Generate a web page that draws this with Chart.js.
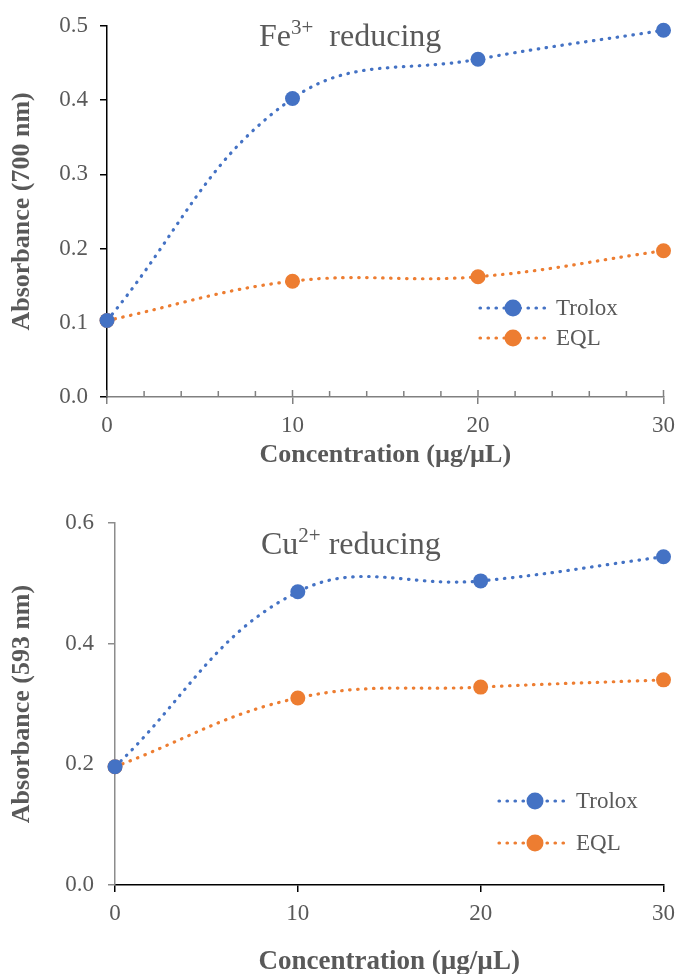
<!DOCTYPE html>
<html>
<head>
<meta charset="utf-8">
<script src="https://cdn.jsdelivr.net/npm/chart.js@4.4.1/dist/chart.umd.min.js"></script>
<style>
  html, body { margin: 0; padding: 0; background: #fff; }
  #wrap { position: relative; width: 683px; height: 974px; }
  .box { position: absolute; left: 0; width: 683px; height: 487px; }
  #box1 { top: 0; }
  #box2 { top: 487px; }
</style>
</head>
<body>
<div id="wrap">
  <div class="box" id="box1"><canvas id="chartFe" width="683" height="487"></canvas></div>
  <div class="box" id="box2"><canvas id="chartCu" width="683" height="487"></canvas></div>
</div>
<script>
// datos
const concentraciones = [0, 10, 20, 30];
const feTrolox = [0.103, 0.402, 0.455, 0.494];
const feEQL = [0.103, 0.156, 0.162, 0.197];
const cuTrolox = [0.196, 0.486, 0.504, 0.544];
const cuEQL = [0.196, 0.310, 0.328, 0.340];
const series = ['Trolox', 'EQL'];
const colores = ['#4472C4', '#ED7D31'];

const FUENTE = "'Liberation Serif', 'Times New Roman', serif";
const GRIS = '#595959';
Chart.defaults.font.family = FUENTE;
Chart.defaults.color = GRIS;

const puntos = (ys) => concentraciones.map((x, i) => ({ x: x, y: ys[i] }));

const crearDataset = (label, ys, color) => ({
    label: label,
    data: puntos(ys),
    borderColor: color,
    backgroundColor: color,
    borderWidth: 3.2,
    borderDash: [0.5, 7.5],
    borderCapStyle: 'round',
    tension: 0.4,
    pointRadius: 7.5,
    pointHoverRadius: 7.5,
    pointBorderWidth: 0,
    pointBackgroundColor: color,
    clip: false
});

// titulo con superindice
const tituloPlugin = {
    id: 'tituloQuimico',
    afterDraw(chart, args, opts) {
        const ctx = chart.ctx;
        ctx.save();
        ctx.fillStyle = GRIS;
        ctx.textBaseline = 'alphabetic';
        ctx.textAlign = 'left';
        let x = opts.x;
        ctx.font = `32px ${FUENTE}`;
        ctx.fillText(opts.base, x, opts.y);
        x += ctx.measureText(opts.base).width;
        ctx.font = `21px ${FUENTE}`;
        ctx.fillText(opts.sup, x, opts.y - 12);
        x += ctx.measureText(opts.sup).width;
        ctx.font = `32px ${FUENTE}`;
        ctx.fillText(opts.rest, x, opts.y);
        ctx.restore();
    }
};

// leyenda dentro del area
const leyendaPlugin = {
    id: 'leyendaInterna',
    afterDraw(chart, args, opts) {
        const ctx = chart.ctx;
        ctx.save();
        chart.data.datasets.forEach((ds, i) => {
            const y = opts.rows[i];
            ctx.strokeStyle = ds.borderColor;
            ctx.lineWidth = 3.2;
            ctx.lineCap = 'round';
            ctx.setLineDash([0.5, 7.5]);
            ctx.beginPath();
            ctx.moveTo(opts.x0, y);
            ctx.lineTo(opts.x1, y);
            ctx.stroke();
            ctx.setLineDash([]);
            ctx.fillStyle = ds.backgroundColor;
            ctx.beginPath();
            ctx.arc(opts.mx, y, 8.5, 0, Math.PI * 2);
            ctx.fill();
            ctx.fillStyle = GRIS;
            ctx.font = `23px ${FUENTE}`;
            ctx.textBaseline = 'middle';
            ctx.fillText(ds.label, opts.tx, y + 1);
        });
        ctx.restore();
    }
};

// marcas menores del eje x (grafica superior)
const marcasPlugin = {
    id: 'marcasMenores',
    afterDraw(chart, args, opts) {
        if (!opts.display) return;
        const sx = chart.scales.x;
        const y0 = chart.chartArea.bottom;
        const ctx = chart.ctx;
        ctx.save();
        ctx.strokeStyle = opts.color;
        ctx.lineWidth = 1.5;
        for (let v = sx.min; v <= sx.max; v += opts.step) {
            const px = sx.getPixelForValue(v);
            const largo = v % 10 === 0 ? 7 : 6;
            ctx.beginPath();
            ctx.moveTo(px, y0 - largo);
            ctx.lineTo(px, y0);
            ctx.stroke();
        }
        ctx.restore();
    }
};

const crearGrafica = (id, cfg) => new Chart(document.getElementById(id).getContext('2d'), {
    type: 'line',
    data: {
        datasets: [
            crearDataset(series[0], cfg.trolox, colores[0]),
            crearDataset(series[1], cfg.eql, colores[1])
        ]
    },
    options: {
        responsive: false,
        animation: false,
        layout: { padding: { top: cfg.top, right: cfg.right, left: 0, bottom: 0 } },
        plugins: {
            legend: { display: false },
            tooltip: { enabled: false },
            tituloQuimico: cfg.titulo,
            leyendaInterna: cfg.leyenda,
            marcasMenores: { display: cfg.menores, step: 2, color: cfg.colorX }
        },
        scales: {
            x: {
                type: 'linear',
                min: 0,
                max: 30,
                afterFit: (s) => { s.height = cfg.altoX; },
                afterBuildTicks: (s) => { s.ticks = concentraciones.map(v => ({ value: v })); },
                ticks: { stepSize: 10, padding: 8, font: { size: 23 }, color: GRIS },
                grid: { drawOnChartArea: false, tickLength: 7, color: cfg.colorX, lineWidth: 1.5 },
                border: { color: cfg.colorX, width: 1.5 },
                title: {
                    display: true,
                    text: 'Concentration (µg/µL)',
                    color: GRIS,
                    font: { size: cfg.tamTituloX, weight: 'bold', lineHeight: cfg.lhX },
                    padding: { top: 0, bottom: cfg.padX }
                }
            },
            y: {
                min: 0,
                max: cfg.maxY,
                afterFit: (s) => { s.width = cfg.anchoY; },
                ticks: {
                    stepSize: cfg.pasoY,
                    padding: cfg.padTickY,
                    font: { size: 23 },
                    color: GRIS,
                    callback: (v) => v.toFixed(1)
                },
                grid: { drawOnChartArea: false, tickLength: 7, color: cfg.colorY, lineWidth: 1.5 },
                border: { color: cfg.colorY, width: 1.5 },
                title: {
                    display: true,
                    text: cfg.tituloY,
                    color: GRIS,
                    font: { size: 26, weight: 'bold', lineHeight: 1.2 },
                    padding: { top: 6.4, bottom: 0 }
                }
            }
        }
    },
    plugins: [tituloPlugin, leyendaPlugin, marcasPlugin]
});

crearGrafica('chartFe', {
    trolox: feTrolox,
    eql: feEQL,
    top: 23, right: 15,
    altoX: 90, anchoY: 107,
    maxY: 0.5, pasoY: 0.1, padTickY: 12,
    colorX: '#808080', colorY: '#000000',
    menores: true,
    tamTituloX: 26, lhX: 1.2, padX: 16.4,
    tituloY: 'Absorbance (700 nm)',
    titulo: { base: 'Fe', sup: '3+', rest: '  reducing', x: 259, y: 46 },
    leyenda: { x0: 480, x1: 548, mx: 513, tx: 556, rows: [308, 338] }
});

crearGrafica('chartCu', {
    trolox: cuTrolox,
    eql: cuEQL,
    top: 36, right: 13,
    altoX: 89, anchoY: 115,
    maxY: 0.6, pasoY: 0.2, padTickY: 14,
    colorX: '#000000', colorY: '#8c8c8c',
    menores: false,
    tamTituloX: 27, lhX: 0.8, padX: 1,
    tituloY: 'Absorbance (593 nm)',
    titulo: { base: 'Cu', sup: '2+', rest: ' reducing', x: 261, y: 67 },
    leyenda: { x0: 499, x1: 569, mx: 535, tx: 576, rows: [314, 356] }
});
</script>
</body>
</html>
